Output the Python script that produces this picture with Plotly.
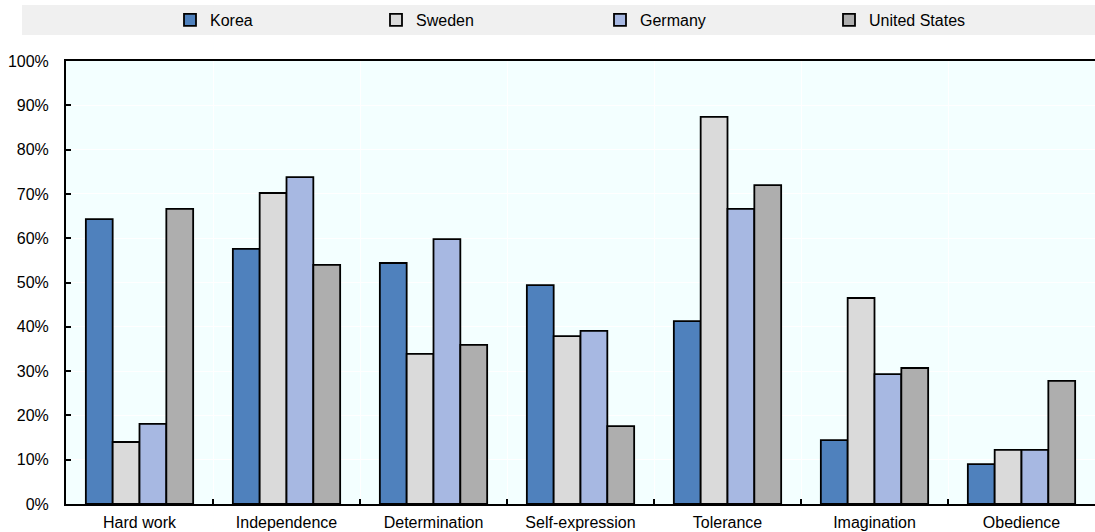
import plotly.graph_objects as go

# Share of respondents naming each quality as important for children (%)
categories = ["Hard work", "Independence", "Determination", "Self-expression",
              "Tolerance", "Imagination", "Obedience"]
korea = [64.3, 57.6, 54.4, 49.4, 41.3, 14.4, 9.0]
sweden = [14.0, 70.2, 33.9, 37.9, 87.4, 46.5, 12.2]
germany = [18.1, 73.8, 59.8, 39.1, 66.6, 29.3, 12.2]
united_states = [66.6, 54.0, 35.9, 17.6, 72.0, 30.7, 27.8]

series = [
    ("Korea", korea, "#4F81BD"),
    ("Sweden", sweden, "#DADADA"),
    ("Germany", germany, "#A7B8E2"),
    ("United States", united_states, "#AEAEAE"),
]

W, H = 1095, 532
ML, MR, MT, MB = 66, 0, 61, 28
plot_w = W - ML - MR
plot_h = H - MT - MB


def px_x(p):
    return (p - ML) / plot_w


def px_y(p):
    return (H - MB - p) / plot_h


FONT = "Liberation Sans, Arial, sans-serif"
legend_left = [170, 376, 600, 829]

fig = go.Figure()
layout_legends = {}
for i, (name, vals, color) in enumerate(series):
    key = "legend" if i == 0 else f"legend{i + 1}"
    fig.add_trace(go.Bar(
        x=categories, y=vals, name=name, legend=key,
        marker=dict(color=color, line=dict(color="black", width=1.8)),
    ))
    layout_legends[key] = dict(
        x=px_x(legend_left[i]), xanchor="left",
        y=px_y(20), yanchor="middle",
        orientation="h", bgcolor="rgba(0,0,0,0)", borderwidth=0,
        font=dict(family=FONT, size=16, color="black"),
        itemwidth=30,
    )

# grey band behind the legend entries
fig.add_shape(type="rect", xref="paper", yref="paper",
              x0=px_x(22), x1=px_x(W + 5), y0=px_y(35), y1=px_y(5),
              fillcolor="#F0F0F0", line=dict(width=0), layer="below")

fig.update_layout(
    width=W, height=H,
    margin=dict(l=ML, r=MR, t=MT, b=MB, pad=0),
    paper_bgcolor="white", plot_bgcolor="#F3FFFF",
    barmode="group", bargap=0.27, bargroupgap=0,
    font=dict(family=FONT, size=16, color="black"),
    showlegend=True,
    **layout_legends,
)

fig.update_xaxes(
    type="category", tickson="boundaries",
    showgrid=True, gridcolor="white", gridwidth=1,
    ticks="inside", ticklen=5, tickwidth=1.5, tickcolor="black",
    showline=True, linecolor="black", linewidth=2, mirror=True,
    ticklabelstandoff=3,
    tickfont=dict(family=FONT, size=16, color="black"),
)
fig.update_yaxes(
    range=[0, 100], dtick=10, ticksuffix="%",
    showgrid=True, gridcolor="white", gridwidth=1, zeroline=False,
    ticks="inside", ticklen=5, tickwidth=1.5, tickcolor="black",
    showline=True, linecolor="black", linewidth=2,
    ticklabelstandoff=12,
    tickfont=dict(family=FONT, size=16, color="black"),
)

fig.write_html("out.html")
